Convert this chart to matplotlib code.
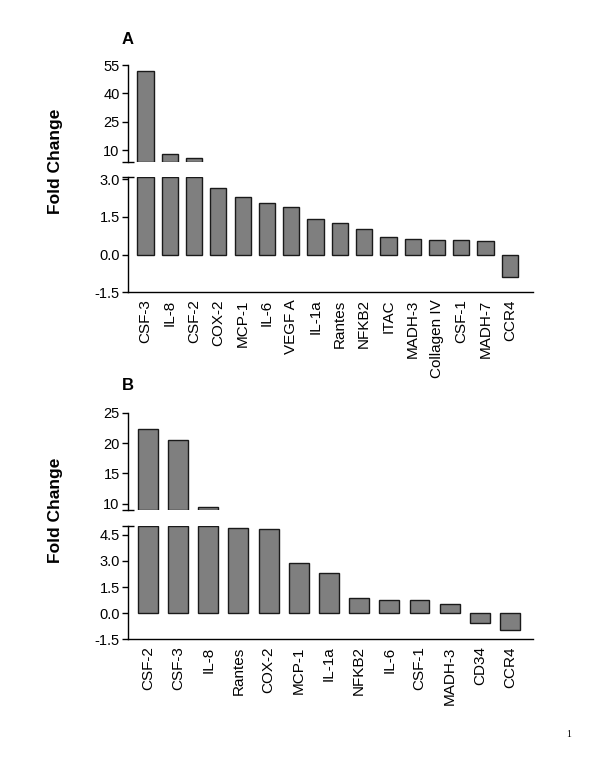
import numpy as np
import matplotlib
matplotlib.use("Agg")
import matplotlib.pyplot as plt

plt.rcParams['font.family'] = ['Liberation Sans', 'DejaVu Sans']

# ---- data ----
cats_a = ["CSF-3", "IL-8", "CSF-2", "COX-2", "MCP-1", "IL-6", "VEGF A", "IL-1a",
          "Rantes", "NFKB2", "ITAC", "MADH-3", "Collagen IV", "CSF-1", "MADH-7", "CCR4"]
vals_a = [51.8, 7.9, 5.7, 2.64, 2.28, 2.07, 1.89, 1.43, 1.26, 1.01, 0.69, 0.61,
          0.58, 0.58, 0.53, -0.90]

cats_b = ["CSF-2", "CSF-3", "IL-8", "Rantes", "COX-2", "MCP-1", "IL-1a", "NFKB2",
          "IL-6", "CSF-1", "MADH-3", "CD34", "CCR4"]
vals_b = [22.3, 20.5, 9.5, 4.89, 4.84, 2.87, 2.32, 0.90, 0.78, 0.75, 0.55, -0.54, -0.98]

ticks_a_upper = [10, 25, 40, 55]
ticks_a_lower = [-1.5, 0.0, 1.5, 3.0]
ticks_b_upper = [10, 15, 20, 25]
ticks_b_lower = [-1.5, 0.0, 1.5, 3.0, 4.5]

BAR = "#7f7f7f"
EDGE = "#1a1a1a"

fig = plt.figure(figsize=(6, 7.76), dpi=100)


def panel(cats, vals, up_rect, lo_rect, up_lim, lo_lim, up_ticks, lo_ticks,
          lo_fmt, width, xr, letter, letter_y):
    x = np.arange(len(cats))
    v = np.asarray(vals, dtype=float)
    axu = fig.add_axes(up_rect)
    axl = fig.add_axes(lo_rect)

    # lower axis bars (clipped to the break)
    lo_h = np.minimum(v, lo_lim[1])
    axl.bar(x, lo_h, width=width, color=BAR, edgecolor=EDGE, linewidth=1.0)
    # upper axis bars (start at the break)
    mask = v > up_lim[0]
    axu.bar(x[mask], v[mask] - up_lim[0], bottom=up_lim[0], width=width,
            color=BAR, edgecolor=EDGE, linewidth=1.0)

    for ax in (axu, axl):
        ax.set_xlim(xr)
        ax.spines['top'].set_visible(False)
        ax.spines['right'].set_visible(False)
        ax.spines['left'].set_linewidth(1.0)
        ax.tick_params(axis='y', direction='out', length=4, width=1.0,
                       labelsize=10.5, pad=2)
    axu.set_ylim(up_lim)
    axl.set_ylim(lo_lim)
    axu.spines['bottom'].set_visible(False)
    axu.set_xticks([])
    axu.set_yticks(up_ticks)
    axu.set_yticklabels([str(t) for t in up_ticks])
    axl.set_yticks(lo_ticks)
    axl.set_yticklabels([lo_fmt.format(t) for t in lo_ticks])
    axl.set_xticks(x)
    axl.set_xticklabels(cats, rotation=90, fontsize=11)
    axl.tick_params(axis='x', length=0, pad=5)
    axl.spines['bottom'].set_linewidth(1.0)

    # break caps on the spine
    axu.plot([0], [0], marker='_', markersize=9, markeredgewidth=1.0,
             color='black', transform=axu.transAxes, clip_on=False)
    axl.plot([0], [1], marker='_', markersize=9, markeredgewidth=1.0,
             color='black', transform=axl.transAxes, clip_on=False)

    fig.text(up_rect[0], letter_y, letter, fontsize=12, fontweight='bold',
             ha='center', va='center')
    fig.text(0.093, up_rect[1] + 0.0, "Fold Change", rotation=90,
             fontsize=12.5, fontweight='bold', ha='center', va='center')


L, W = 0.2133, 0.675
panel(cats_a, vals_a,
      [L, 0.7916, W, 0.1246], [L, 0.6233, W, 0.1482],
      (4, 55), (-1.5, 3.08), ticks_a_upper, ticks_a_lower, "{:.1f}",
      0.67, (-0.72, 15.95), "A", 0.9485)

panel(cats_b, vals_b,
      [L, 0.3428, W, 0.1254], [L, 0.1760, W, 0.1461],
      (9, 25), (-1.5, 5.0), ticks_b_upper, ticks_b_lower, "{:.1f}",
      0.66, (-0.66, 12.76), "B", 0.5026)

fig.text(0.947, 0.053, "1", fontsize=7, family=['Liberation Serif', 'DejaVu Serif'],
         ha='center', va='center')

fig.savefig("out.png", dpi=100)
